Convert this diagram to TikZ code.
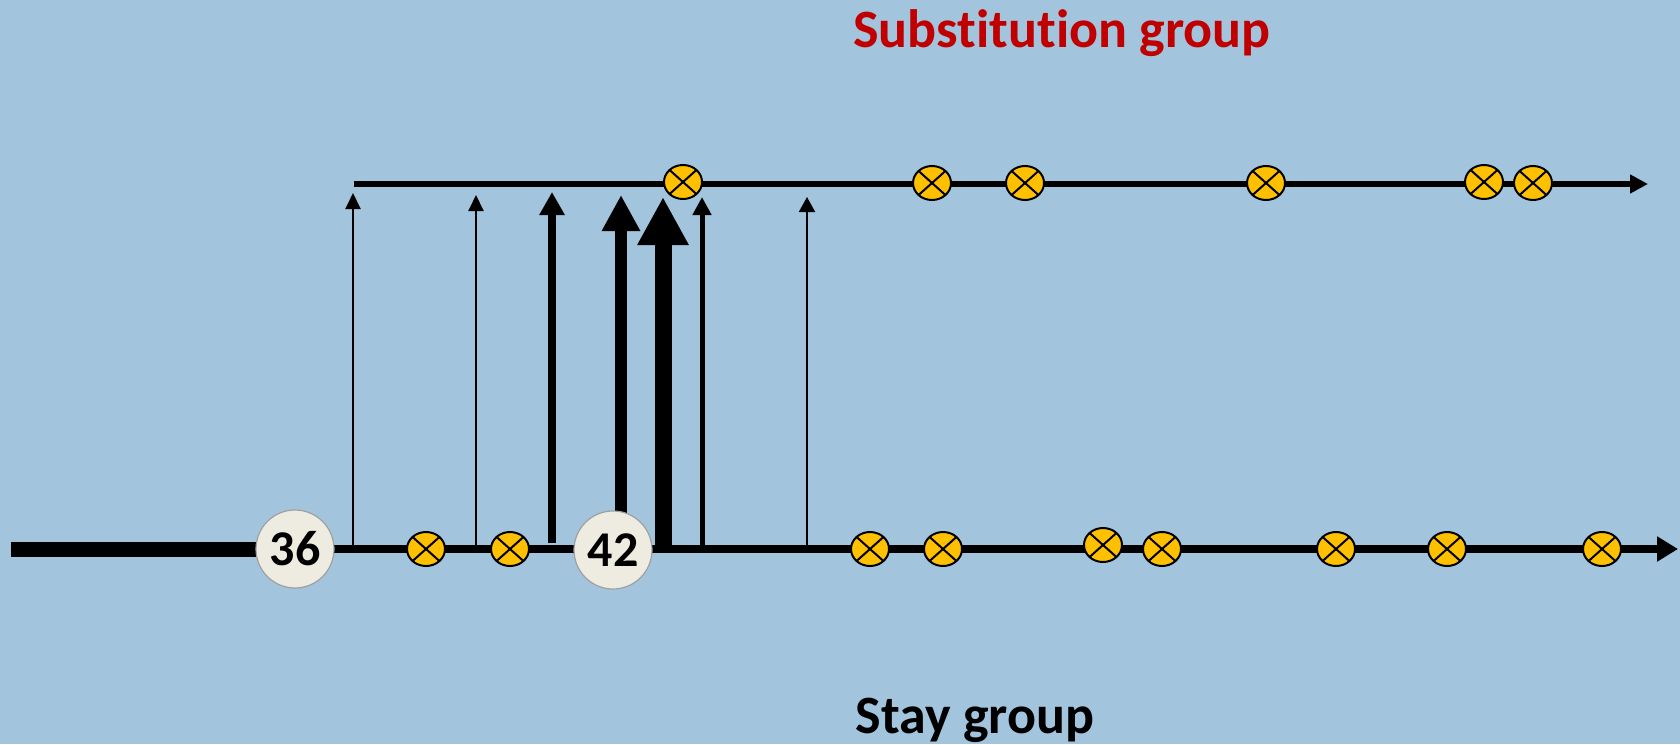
\documentclass[tikz,border=0pt]{standalone}
\usepackage{fontspec}
\setmainfont{Carlito}
\usetikzlibrary{arrows.meta,shapes.geometric}
\definecolor{skyback}{RGB}{162,196,221}
\definecolor{redlabel}{RGB}{192,0,0}
\definecolor{eventfill}{RGB}{255,192,0}
\definecolor{agefill}{RGB}{238,236,225}
\definecolor{ageline}{RGB}{160,160,160}

\tikzset{
  event/.style={draw, ellipse, fill=eventfill, line width=1pt,
    minimum width=19pt, minimum height=17pt, inner sep=0pt,
    path picture={\draw[line width=1pt]
      (path picture bounding box.north west) -- (path picture bounding box.south east)
      (path picture bounding box.north east) -- (path picture bounding box.south west);}},
  age/.style={draw=ageline, circle, fill=agefill, line width=0.6pt,
    minimum size=39pt, inner sep=0pt, font=\fontsize{25}{25}\selectfont\bfseries},
  grouplabel/.style={font=\fontsize{27}{27}\selectfont\bfseries, anchor=base},
}

\begin{document}
\begin{tikzpicture}[x=0.5pt, y=-0.5pt]
  \fill[skyback] (0,0) rectangle (1680,744);
  \useasboundingbox (0,0) rectangle (1680,744);

  % ends of the two time lines
  \coordinate (stayL) at (11,549);
  \coordinate (k36) at (295,549);
  \coordinate (k42) at (613,550);
  \coordinate (stayR) at (1678,549);
  \coordinate (subL) at (354,184);
  \coordinate (subR) at (1648,184);

  % time lines
  \draw[line width=7.5pt] (stayL) -- (k36);
  \draw[line width=4pt, -{Triangle[length=10.5pt,width=12pt]}] (k36) -- (stayR);
  \draw[line width=3pt, -{Triangle[length=9pt,width=9pt]}] (subL) -- (subR);

  % feet and tips of the switching arrows
  \coordinate (a1) at (353,549); \coordinate (a1t) at (353,193);
  \coordinate (a2) at (476,549); \coordinate (a2t) at (476,195);
  \coordinate (a3) at (552,543); \coordinate (a3t) at (552,192);
  \coordinate (a4) at (621,549); \coordinate (a4t) at (621,195);
  \coordinate (a5) at (663,549); \coordinate (a5t) at (663,197);
  \coordinate (a6) at (702,549); \coordinate (a6t) at (702,197);
  \coordinate (a7) at (807,549); \coordinate (a7t) at (807,197);

  % switching arrows, thicker for more switches
  \draw[line width=1pt, -{Triangle[length=8pt,width=7.5pt]}] (a1) -- (a1t);
  \draw[line width=1pt, -{Triangle[length=8pt,width=7.5pt]}] (a2) -- (a2t);
  \draw[line width=4pt, -{Triangle[length=11.5pt,width=12pt]}] (a3) -- (a3t);
  \draw[line width=6pt, -{Triangle[length=18pt,width=18pt]}] (a4) -- (a4t);
  \draw[line width=8.5pt, -{Triangle[length=24pt,width=24pt]}] (a5) -- (a5t);
  \draw[line width=2.5pt, -{Triangle[length=9pt,width=9pt]}] (a6) -- (a6t);
  \draw[line width=1pt, -{Triangle[length=7.5pt,width=8pt]}] (a7) -- (a7t);

  % events in the stay group
  \node[event] (m1) at (426,549) {};
  \node[event] (m2) at (510,549) {};
  \node[event] (m3) at (870,549) {};
  \node[event] (m4) at (943,549) {};
  \node[event] (m5) at (1103,545) {};
  \node[event] (m6) at (1162,549) {};
  \node[event] (m7) at (1336,549) {};
  \node[event] (m8) at (1447,549) {};
  \node[event] (m9) at (1602,549) {};

  % events in the substitution group
  \node[event] (s1) at (683,182) {};
  \node[event] (s2) at (932,183) {};
  \node[event] (s3) at (1025,183) {};
  \node[event] (s4) at (1266,183) {};
  \node[event] (s5) at (1484,182) {};
  \node[event] (s6) at (1533,183) {};

  % ages
  \node[age] (c36) at (k36) {36};
  \node[age] (c42) at (k42) {42};

  % group names (kerns keep the t-i pairs apart)
  \node[grouplabel, text=redlabel] (subname) at (1062,47) {Subst\kern0pt itut\kern0pt ion group};
  \node[grouplabel] (stayname) at (975,733) {Stay group};
\end{tikzpicture}
\end{document}
